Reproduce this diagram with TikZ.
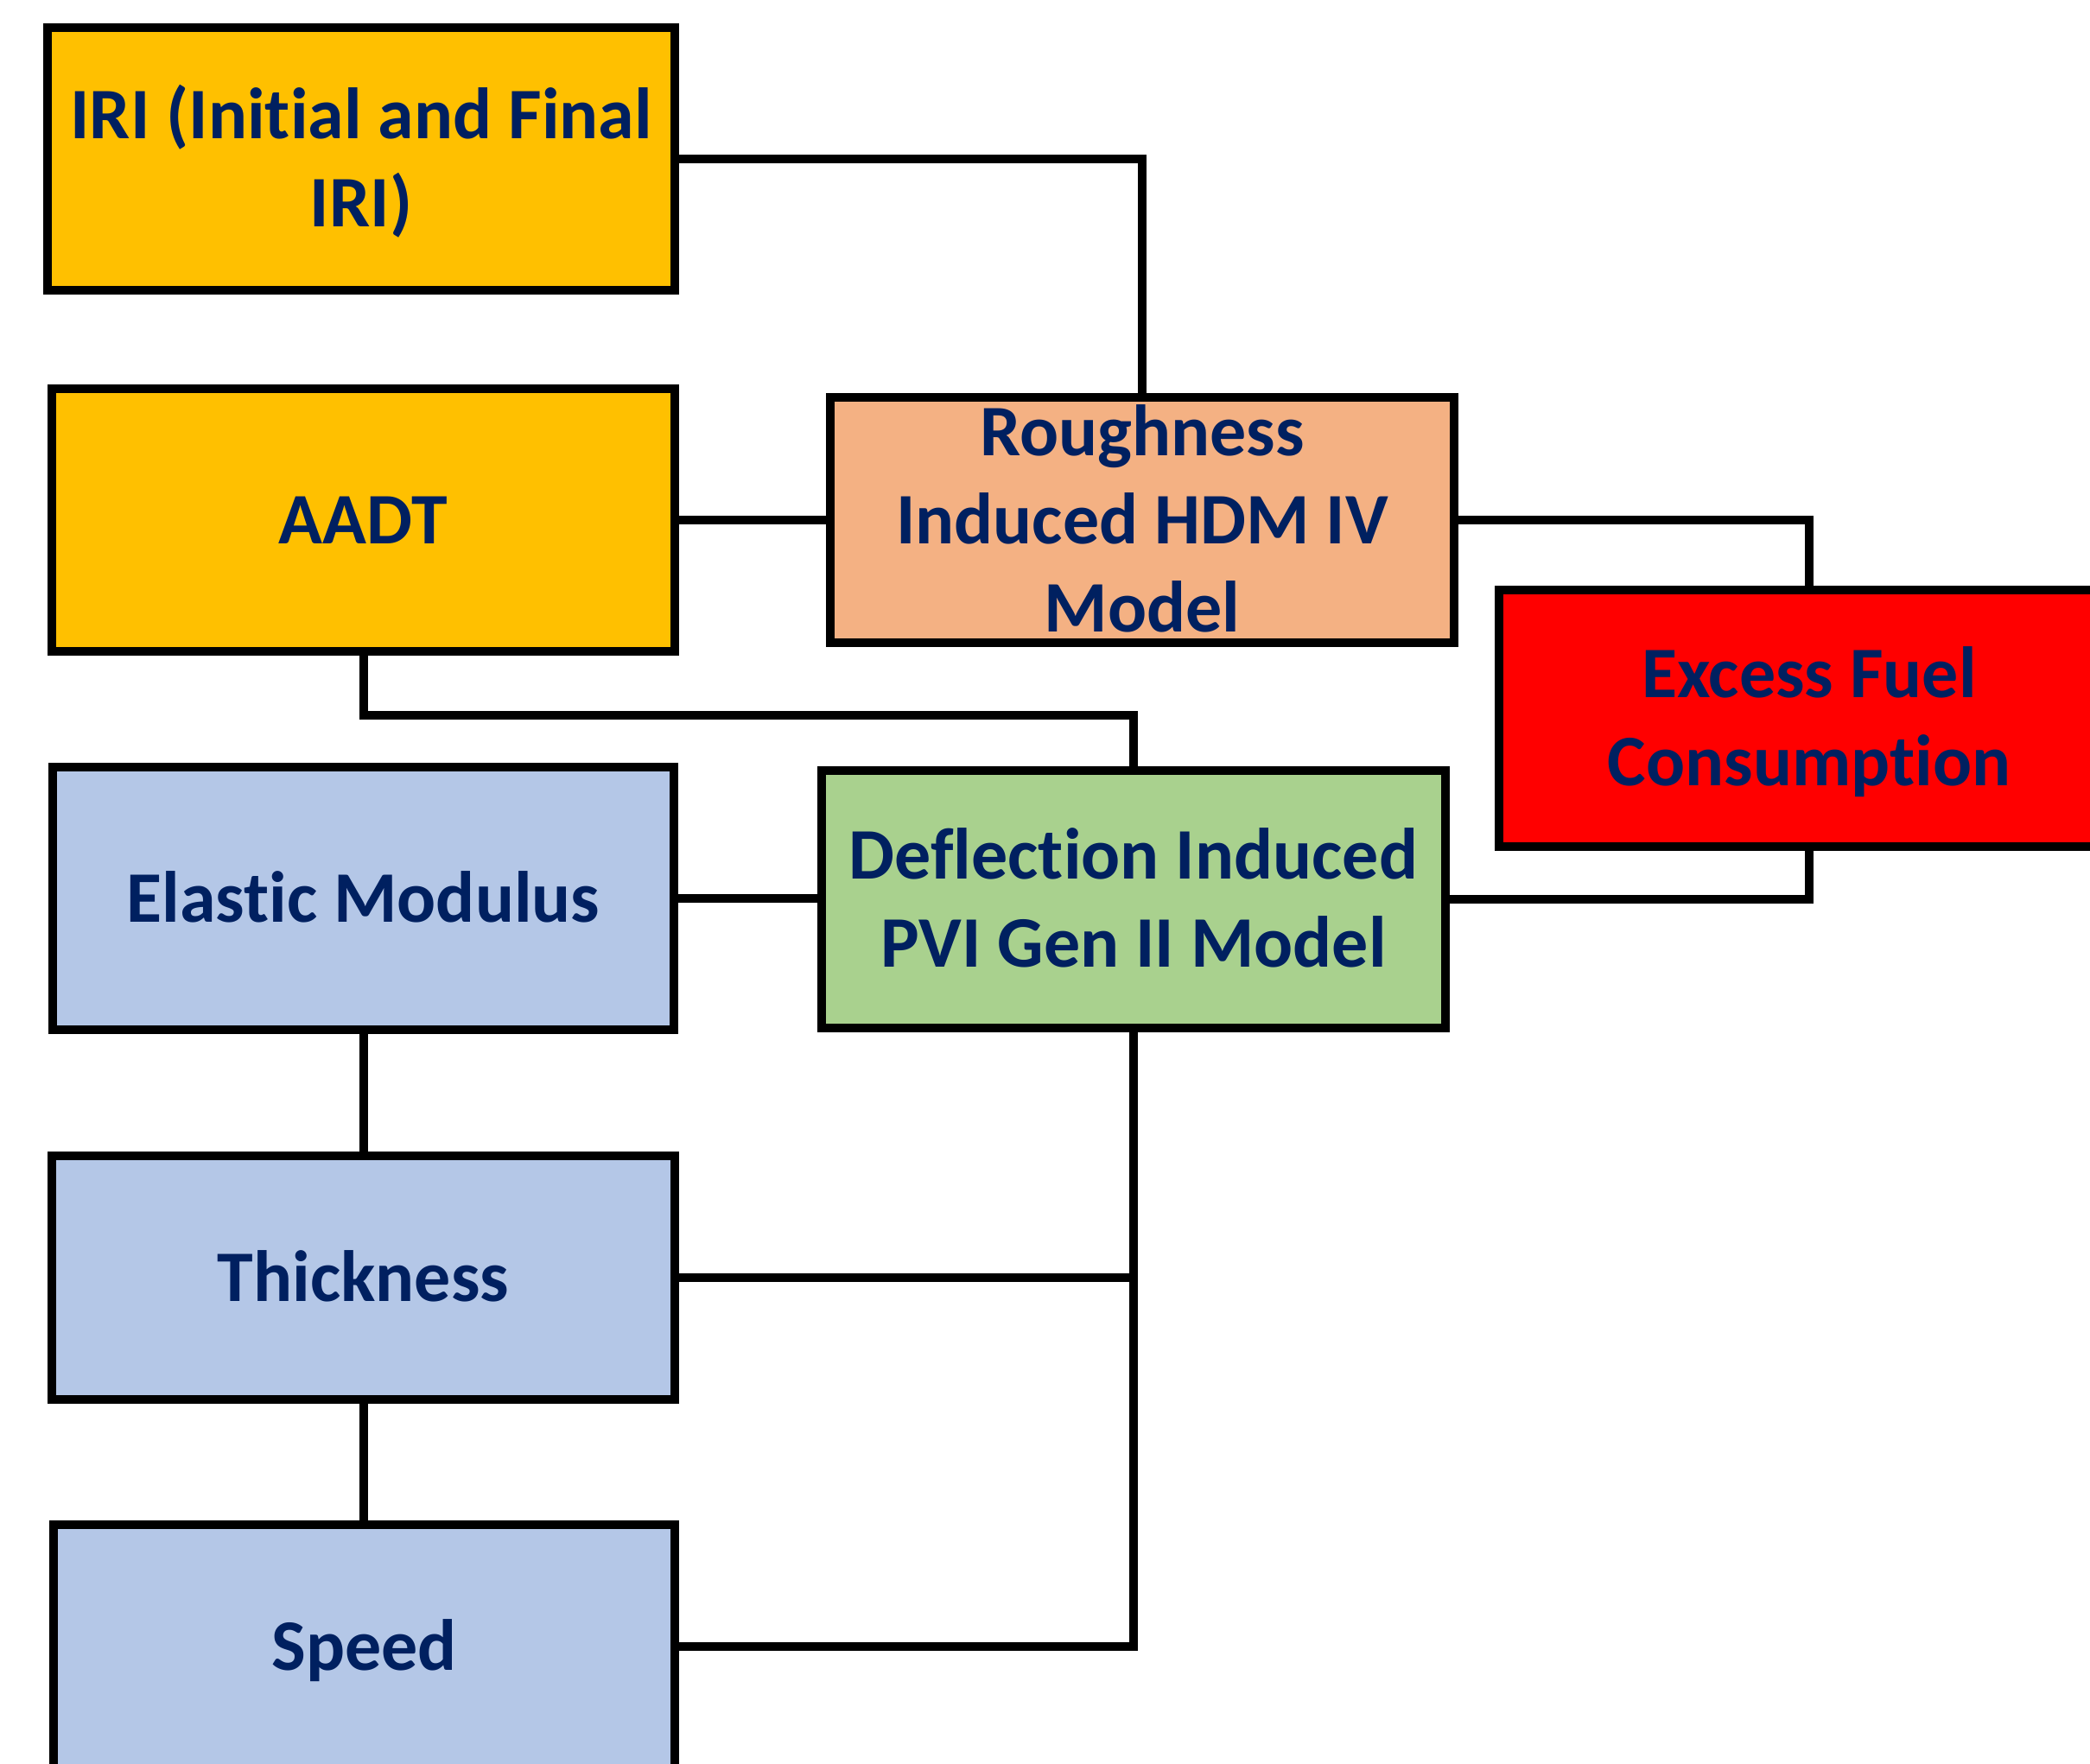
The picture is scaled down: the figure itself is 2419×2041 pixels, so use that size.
\documentclass[tikz,border=0pt]{standalone}
\usepackage{fontspec}
\setmainfont{Carlito}[Ligatures=NoCommon]
\definecolor{navytext}{HTML}{002060}
\definecolor{yellowbox}{HTML}{FFC000}
\definecolor{peachbox}{HTML}{F4B183}
\definecolor{redbox}{HTML}{FF0000}
\definecolor{greenbox}{HTML}{A9D18E}
\definecolor{bluebox}{HTML}{B4C7E7}
\newcommand\capline[1]{\raisebox{0pt}[27pt][0pt]{#1}}
\tikzset{
  box/.style={draw=black, line width=5pt, rectangle, inner sep=0pt, align=center,
    text=navytext, font=\fontsize{42pt}{51pt}\selectfont\bfseries},
  link/.style={draw=black, line width=5pt, line join=miter}
}
\begin{document}
\begin{tikzpicture}[x=0.5pt,y=-0.5pt]
\useasboundingbox (0,0) rectangle (2419,2041);
\clip (0,0) rectangle (2419,2041);
\fill[white] (0,0) rectangle (2419,2041);

\node[box, fill=yellowbox, minimum width=363pt, minimum height=152pt] (iri) at (418,184) {\capline{IRI (Initial and Final}\\\capline{IRI)}};
\node[box, fill=yellowbox, minimum width=360.5pt, minimum height=152pt] (aadt) at (420.5,602) {\capline{AADT}};
\node[box, fill=peachbox, minimum width=361pt, minimum height=142pt] (rough) at (1322,602) {\capline{Roughness}\\\capline{Induced HDM IV}\\\capline{Model}};
\node[box, fill=redbox, minimum width=359pt, minimum height=148.5pt] (excess) at (2094,831.5) {\capline{Excess Fuel}\\\capline{Consumption}};
\node[box, fill=bluebox, minimum width=359.5pt, minimum height=152pt] (elastic) at (420.5,1040) {\capline{Elastic Modulus}};
\node[box, fill=greenbox, minimum width=361pt, minimum height=149pt] (defl) at (1312,1041) {\capline{Deflection Induced}\\\capline{PVI Gen II Model}};
\node[box, fill=bluebox, minimum width=360.5pt, minimum height=141pt] (thick) at (420.5,1479) {\capline{Thickness}};
\node[box, fill=bluebox, minimum width=359.5pt, minimum height=141pt] (speed) at (421.5,1906) {\capline{Speed}};

\draw[link] (iri.east) -| (rough.north);
\draw[link] (aadt.east) -- (rough.west);
\draw[link] (rough.east) -| (excess.north);
\draw[link] (aadt.south) -- ++(0,69) -| (defl.north);
\draw[link] (elastic.east) -- (elastic.east -| defl.west);
\draw[link] (defl.east) -| (excess.south);
\draw[link] (elastic.south) -- (thick.north);
\draw[link] (thick.south) -- (thick.south |- speed.north);
\draw[link] (defl.south) |- (speed.east);
\draw[link] (thick.east) -- (thick.east -| defl.south);
\end{tikzpicture}
\end{document}
